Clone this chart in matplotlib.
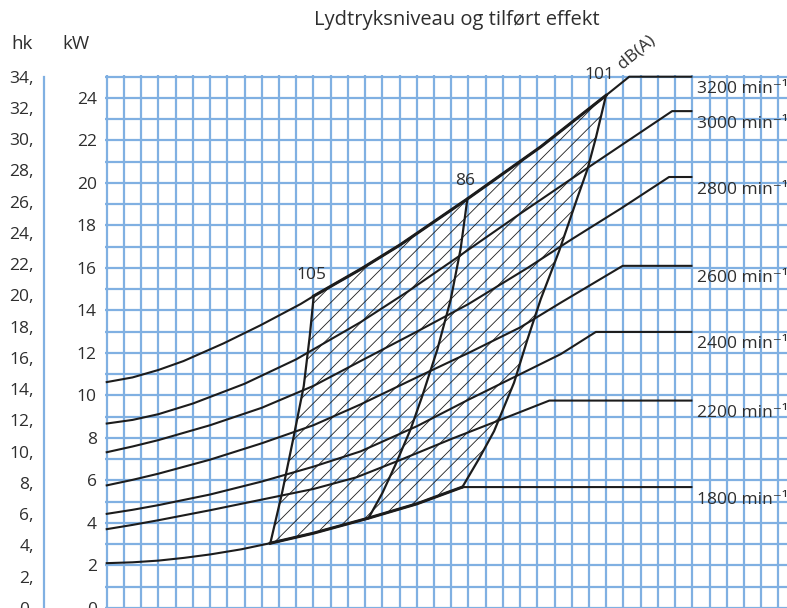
import matplotlib
matplotlib.use("Agg")
import matplotlib.pyplot as plt

plt.rcParams['font.family'] = ['Open Sans', 'DejaVu Sans']
plt.rcParams['hatch.linewidth'] = 0.6

# ----------------------
# DATA  (x = grid column, y = kW)
# ----------------------
x_3200 = [0, 1.5, 3, 4.46, 6.78, 8.92, 11.25, 12.02, 14.74, 17.06, 20.94, 25.2, 28.99, 30.34, 33.95]
y_3200 = [10.63, 10.85, 11.2, 11.62, 12.45, 13.3, 14.3, 14.68, 15.94, 17.1, 19.25, 21.7, 24.12, 25.0, 25.0]

x_3000 = [0, 1.5, 3, 5, 8, 11, 14.74, 17.5, 20.36, 24, 27.83, 32.83, 33.95]
y_3000 = [8.68, 8.85, 9.12, 9.62, 10.55, 11.7, 13.45, 14.9, 16.5, 18.55, 20.66, 23.38, 23.38]

x_2800 = [0, 1.5, 3, 6, 9, 12, 14.74, 18, 21, 24.43, 27, 29.86, 32.65, 33.95]
y_2800 = [7.33, 7.6, 7.9, 8.6, 9.42, 10.45, 11.62, 13.0, 14.3, 16.0, 17.35, 18.8, 20.28, 20.28]

x_2600 = [0, 1.5, 3, 6, 9, 12, 14.74, 18, 21, 24, 26.37, 29.96, 33.95]
y_2600 = [5.77, 6.03, 6.32, 6.98, 7.75, 8.6, 9.58, 10.85, 12.0, 13.2, 14.37, 16.1, 16.1]

x_2400 = [0, 1.5, 3, 6, 9, 12, 14.74, 18, 21, 24, 26.37, 28.4, 33.95]
y_2400 = [4.43, 4.62, 4.84, 5.34, 5.95, 6.65, 7.37, 8.55, 9.8, 11.0, 11.95, 12.99, 12.99]

x_2200 = [0, 1.5, 3, 6, 9, 12, 14.5, 17, 20, 23, 25.7, 33.95]
y_2200 = [3.71, 3.91, 4.13, 4.6, 5.1, 5.6, 6.15, 6.95, 7.95, 8.9, 9.76, 9.76]

x_1800 = [0, 1.5, 3, 4.5, 6, 7.8, 9.5, 12, 15.2, 18, 20.65, 33.95]
y_1800 = [2.11, 2.15, 2.23, 2.36, 2.52, 2.76, 3.05, 3.52, 4.23, 4.9, 5.69, 5.69]

speed_labels = ["3200 min⁻¹", "3000 min⁻¹", "2800 min⁻¹", "2600 min⁻¹",
                "2400 min⁻¹", "2200 min⁻¹", "1800 min⁻¹"]

# dB(A) boundaries of the operating range
x_105 = [9.5, 10.18, 10.86, 11.44, 11.79, 12.02]
y_105 = [3.05, 5.41, 8.08, 10.44, 12.8, 14.68]

x_86 = [15.2, 16.0, 16.77, 17.64, 18.32, 19.2, 19.97, 20.55, 20.94]
y_86 = [4.23, 5.4, 6.75, 8.4, 9.97, 12.17, 14.5, 16.9, 19.25]

x_101 = [20.65, 21.6, 22.49, 23.65, 24.43, 25.2, 26.27, 27.34, 27.92, 28.41, 28.99]
y_101 = [5.69, 7.0, 8.32, 10.6, 12.64, 14.53, 16.8, 19.33, 20.66, 22.15, 24.12]

kw_ticks = list(range(0, 25, 2))
hk_ticks = list(range(0, 35, 2))

# ----------------------
# STYLE
# ----------------------
grid_blue = "#80b0e2"
ink = "#1c1c1c"
txt = "#2e2e2e"
W, H = 787, 608
FS = 12.5

fig = plt.figure(figsize=(W / 100, H / 100), dpi=100)
ax = fig.add_axes([105 / W, 0, 1 - 105 / W, (H - 75) / H])
ax.set_xlim(-0.1, 39.5)
ax.set_ylim(0, 25.08)

ax.set_xticks(range(0, 40))
ax.set_xticklabels([])
ax.set_yticks(kw_ticks)
ax.set_yticks(range(0, 26), minor=True)
ax.tick_params(which="both", length=0, labelsize=FS, labelcolor=txt, pad=6)
ax.grid(True, which="both", color=grid_blue, linewidth=1.6)
ax.set_axisbelow(True)
for s in ax.spines.values():
    s.set_visible(False)

# speed curves
curves = [(x_3200, y_3200), (x_3000, y_3000), (x_2800, y_2800), (x_2600, y_2600),
          (x_2400, y_2400), (x_2200, y_2200), (x_1800, y_1800)]
i1800 = x_1800.index(9.5)
j1800 = x_1800.index(20.65)
i3200 = x_3200.index(12.02)
j3200 = x_3200.index(28.99)
for (xs, ys), lab in zip(curves, speed_labels):
    ax.plot(xs, ys, color=ink, lw=1.5, solid_joinstyle="round", zorder=3)
    ax.annotate(lab, (xs[-1], ys[-1]), xytext=(4, -9), textcoords="offset points",
                ha="left", va="center", fontsize=FS, color=txt, zorder=5,
                annotation_clip=False)

# hatched operating range
seg18_x, seg18_y = x_1800[i1800:j1800 + 1], y_1800[i1800:j1800 + 1]
seg32_x, seg32_y = x_3200[i3200:j3200 + 1], y_3200[i3200:j3200 + 1]
poly_x = seg18_x + x_101[1:] + seg32_x[::-1][1:] + x_105[::-1][1:]
poly_y = seg18_y + y_101[1:] + seg32_y[::-1][1:] + y_105[::-1][1:]
ax.fill(poly_x, poly_y, facecolor="none", edgecolor=ink, hatch="//", linewidth=0, zorder=2)

# emphasised envelope parts
ax.plot(seg32_x, seg32_y, color=ink, lw=2.2, zorder=4)
ax.plot(seg18_x, seg18_y, color=ink, lw=2.2, zorder=4)
for xs, ys in [(x_105, y_105), (x_86, y_86), (x_101, y_101)]:
    ax.plot(xs, ys, color=ink, lw=1.6, zorder=4)

ax.annotate("105", (x_105[-1], y_105[-1]), xytext=(-1.5, 15), textcoords="offset points",
            ha="center", va="center", fontsize=FS, color=txt)
ax.annotate("86", (x_86[-1], y_86[-1]), xytext=(-1.5, 13), textcoords="offset points",
            ha="center", va="center", fontsize=FS, color=txt)
ax.annotate("101", (x_101[-1], y_101[-1]), xytext=(-5, 14.5), textcoords="offset points",
            ha="center", va="center", fontsize=FS, color=txt, annotation_clip=False)
ax.annotate("dB(A)", (x_101[-1], y_101[-1]), xytext=(22, 31), textcoords="offset points",
            ha="center", va="center", fontsize=FS, color=txt, rotation=40,
            annotation_clip=False)

# hk axis on the far left
ax_hk = fig.add_axes([43.5 / W, 0, 0.0001, (H - 75) / H])
ax_hk.set_ylim(0, 25.08 * 1.3596)
ax_hk.set_xticks([])
ax_hk.set_yticks(hk_ticks)
ax_hk.set_yticklabels([f"{v}," for v in hk_ticks])
ax_hk.tick_params(length=0, labelsize=FS, labelcolor=txt, pad=7)
for k, s in ax_hk.spines.items():
    s.set_visible(k == "left")
ax_hk.spines["left"].set_color(grid_blue)
ax_hk.spines["left"].set_linewidth(1.6)
ax_hk.spines["left"].set_bounds(0, 34)
ax_hk.patch.set_visible(False)

fig.text(22 / W, 1 - 44 / H, "hk", ha="center", va="center", fontsize=13.5, color=txt)
fig.text(76 / W, 1 - 44 / H, "kW", ha="center", va="center", fontsize=13.5, color=txt)
fig.text(457 / W, 1 - 20 / H, "Lydtryksniveau og tilført effekt",
         ha="center", va="center", fontsize=14.5, color=txt)

fig.savefig("out.png", dpi=100)
